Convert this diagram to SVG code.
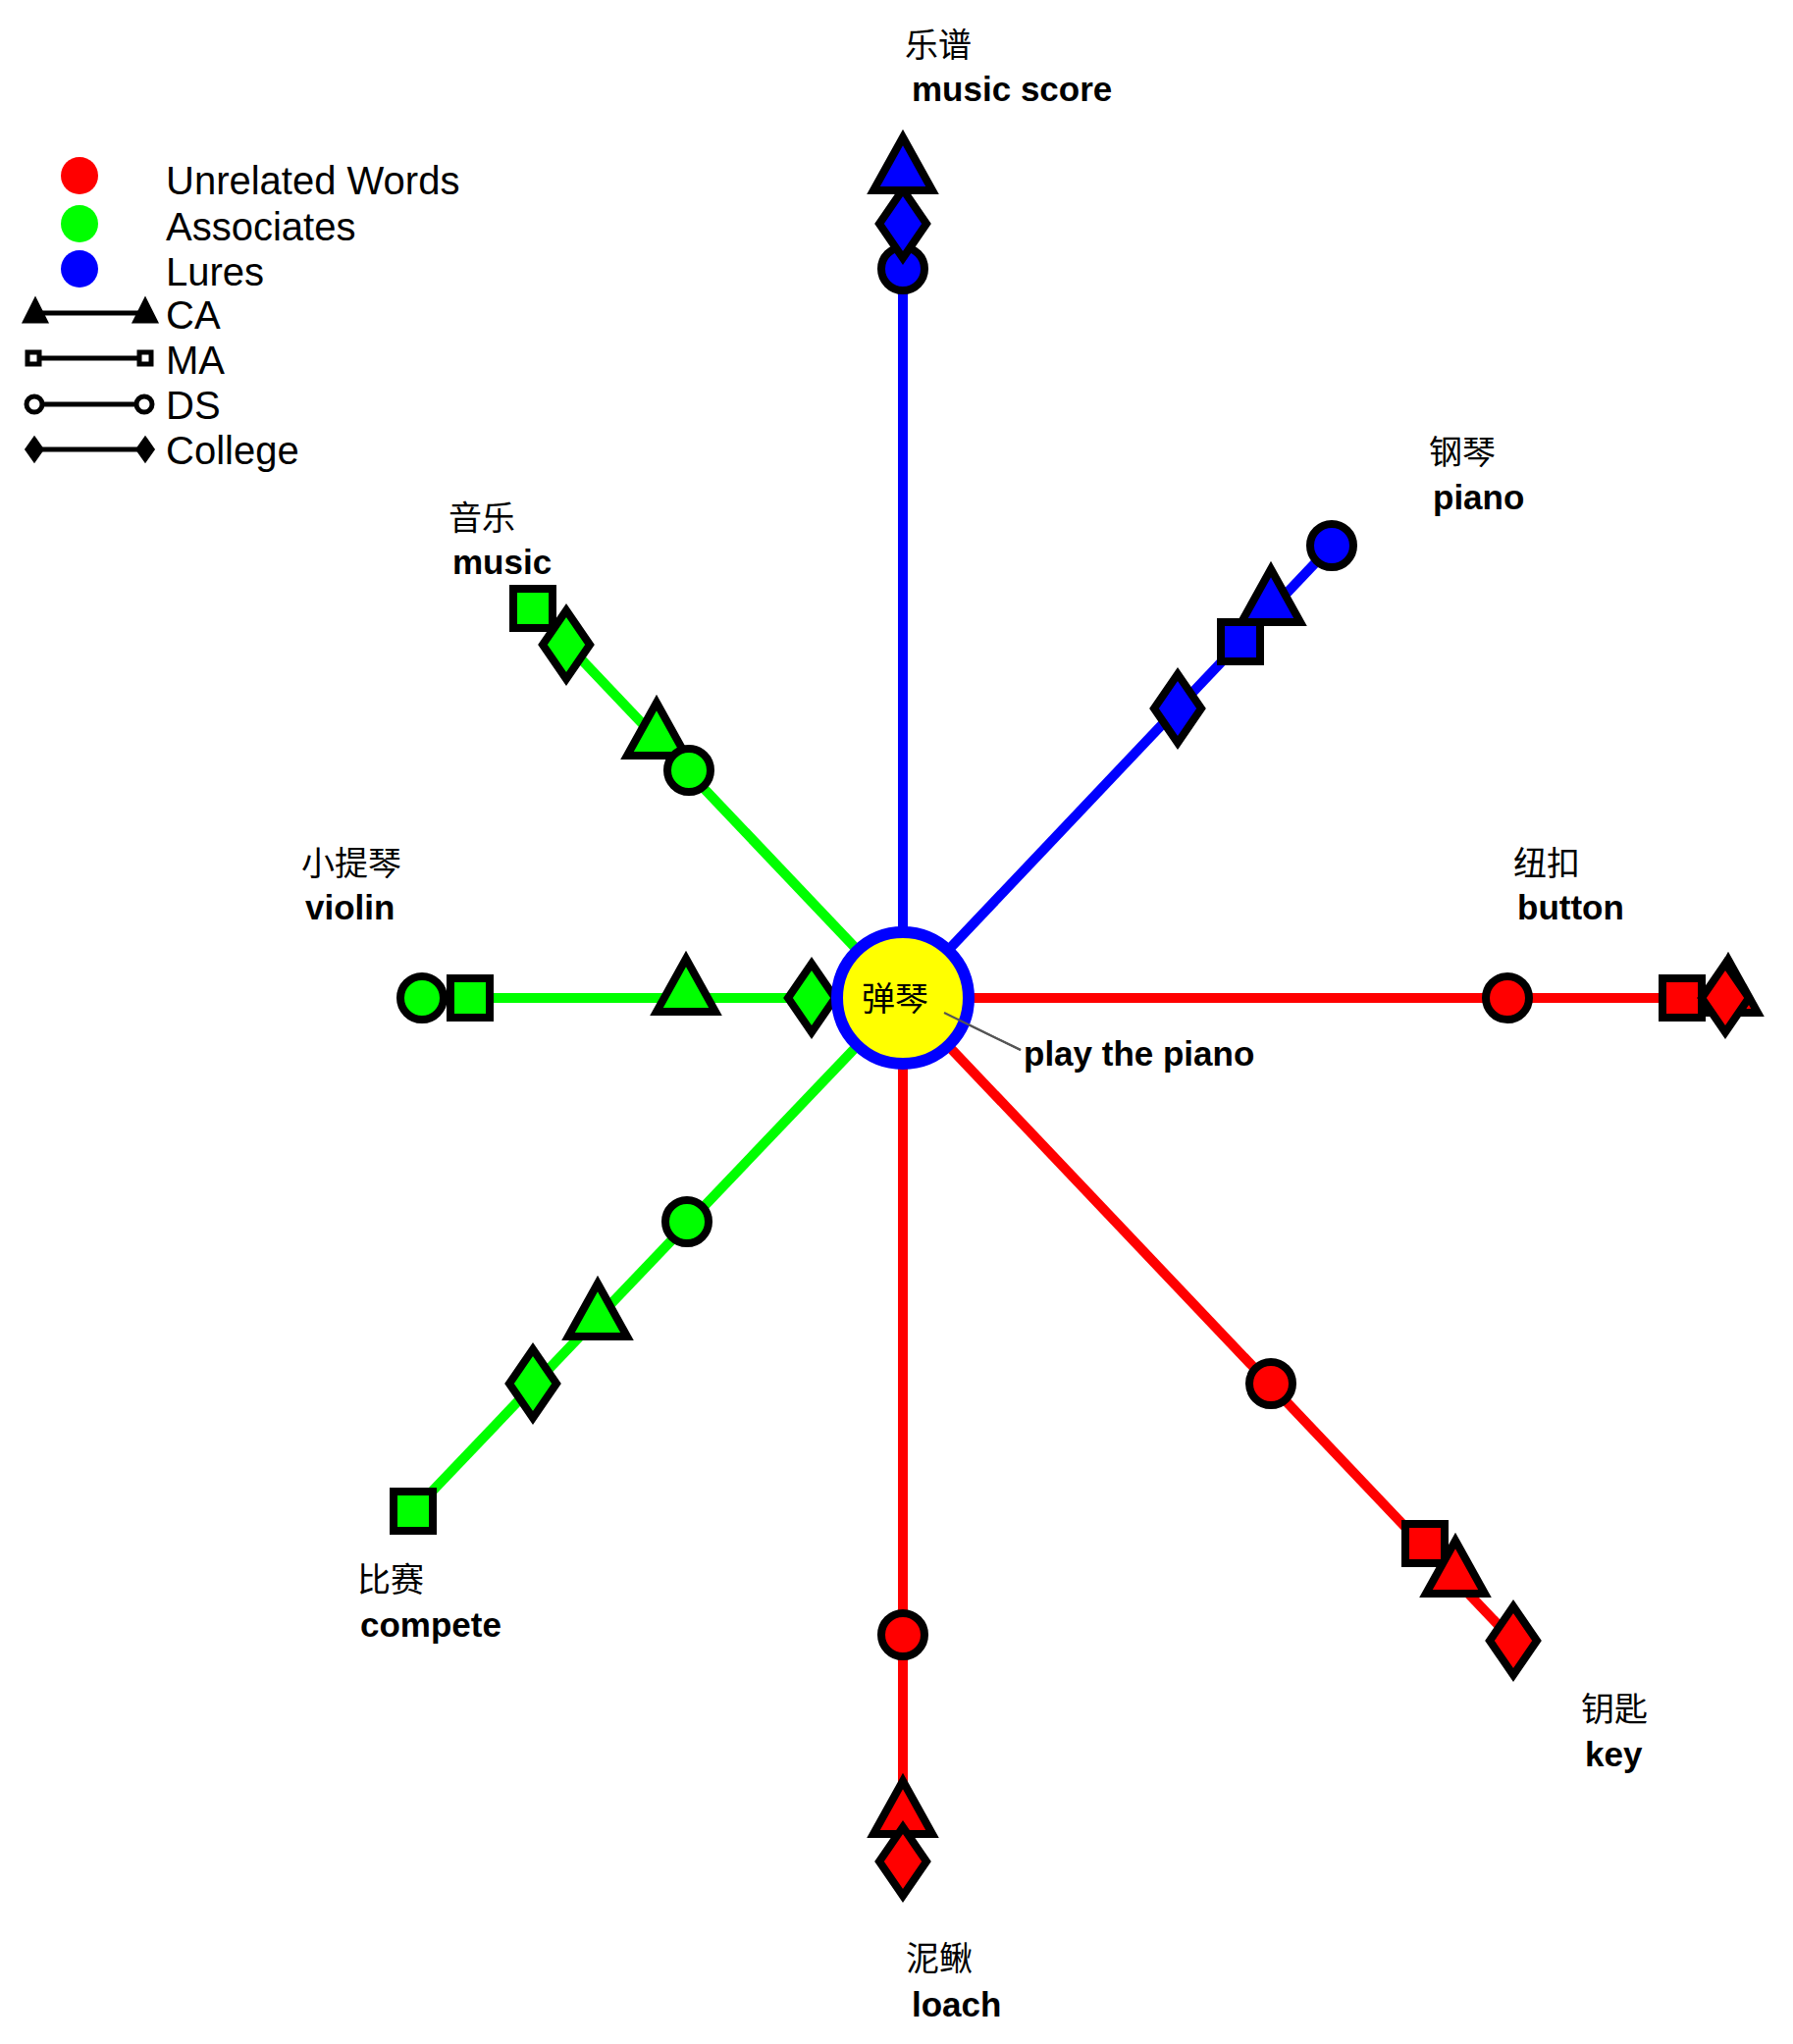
<svg xmlns="http://www.w3.org/2000/svg" width="1827" height="2083" viewBox="0 0 1827 2083">
<style>
.en{font-family:"Liberation Sans",Arial,sans-serif;font-weight:bold;font-size:35px;fill:#000}
.zh{font-family:"Noto Sans CJK SC",serif;font-size:34px;fill:#000}
.lg{font-family:"Liberation Sans",Arial,sans-serif;font-size:40px;fill:#000}
.m{stroke:#000;stroke-width:8}
.r{fill:#f00}.g{fill:#0f0}.b{fill:#00f}
</style>
<defs>
<circle id="ci" r="22"/>
<rect id="sq" x="-20" y="-20" width="40" height="40"/>
<polygon id="tr" points="0,-32 30,22 -30,22"/>
<polygon id="di" points="0,-35 24,0 0,35 -24,0"/>
</defs>
<rect width="1827" height="2083" fill="#fff"/>
<g id="legend">
<circle cx="81" cy="179" r="19" fill="#f00"/><circle cx="81" cy="228" r="19" fill="#0f0"/><circle cx="81" cy="274" r="19" fill="#00f"/>
<text class="lg" x="169" y="198">Unrelated Words</text><text class="lg" x="169" y="245">Associates</text><text class="lg" x="169" y="291">Lures</text>
<g stroke="#000" stroke-width="5" fill="#fff">
<line x1="30" y1="319" x2="150" y2="319"/><polygon points="36,307 46,327 26,327" fill="#000"/><polygon points="148,307 158,327 138,327" fill="#000"/>
<line x1="30" y1="365" x2="150" y2="365"/><rect x="28" y="359" width="12" height="12"/><rect x="142" y="359" width="12" height="12"/>
<line x1="30" y1="412" x2="150" y2="412"/><circle cx="35" cy="412" r="8"/><circle cx="147" cy="412" r="8"/>
<line x1="30" y1="458" x2="150" y2="458"/><polygon points="35,448 42,458 35,468 28,458" fill="#000"/><polygon points="148,448 155,458 148,468 141,458" fill="#000"/>
</g>
<text class="lg" x="169" y="335">CA</text><text class="lg" x="169" y="381">MA</text><text class="lg" x="169" y="427">DS</text><text class="lg" x="169" y="473">College</text>
</g>
<g id="connectors" stroke-width="10">
<line x1="920" y1="1017" x2="920" y2="172" stroke="#00f"/>
<line x1="920" y1="1017" x2="1357" y2="556" stroke="#00f"/>
<line x1="920" y1="1017" x2="1770" y2="1017" stroke="#f00"/>
<line x1="920" y1="1017" x2="1542" y2="1672" stroke="#f00"/>
<line x1="920" y1="1017" x2="920" y2="1880" stroke="#f00"/>
<line x1="920" y1="1017" x2="421" y2="1540" stroke="#0f0"/>
<line x1="920" y1="1017" x2="430" y2="1017" stroke="#0f0"/>
<line x1="920" y1="1017" x2="543" y2="620" stroke="#0f0"/>
<line x1="962" y1="1032" x2="1040" y2="1070" stroke="#555" stroke-width="2"/>
</g>
<g id="n-score" class="m b">
<use href="#ci" x="920" y="274"/><use href="#di" x="920" y="228"/><use href="#tr" x="920" y="172"/>
</g>
<g id="n-piano" class="m b">
<use href="#di" x="1200" y="722"/><use href="#sq" x="1264" y="654"/><use href="#tr" x="1295" y="612"/><use href="#ci" x="1357" y="556"/>
</g>
<g id="n-button" class="m r">
<use href="#ci" x="1536" y="1017"/><use href="#tr" x="1761" y="1010"/><use href="#sq" x="1714" y="1017"/><use href="#di" x="1758" y="1017"/>
</g>
<g id="n-key" class="m r">
<use href="#ci" x="1295" y="1410"/><use href="#sq" x="1452" y="1573"/><use href="#tr" x="1483" y="1602"/><use href="#di" x="1542" y="1672"/>
</g>
<g id="n-loach" class="m r">
<use href="#ci" x="920" y="1666"/><use href="#tr" x="920" y="1847"/><use href="#di" x="920" y="1897"/>
</g>
<g id="n-compete" class="m g">
<use href="#sq" x="421" y="1540"/><use href="#di" x="543" y="1410"/><use href="#tr" x="609" y="1340"/><use href="#ci" x="700" y="1245"/>
</g>
<g id="n-violin" class="m g">
<use href="#ci" x="430" y="1017"/><use href="#sq" x="479" y="1017"/><use href="#tr" x="699" y="1009"/><use href="#di" x="827" y="1017"/>
</g>
<g id="n-music" class="m g">
<use href="#sq" x="543" y="620"/><use href="#di" x="577" y="657"/><use href="#tr" x="669" y="748"/><use href="#ci" x="702" y="785"/>
</g>
<g id="n-center">
<circle cx="920" cy="1017" r="67" fill="#ff0" stroke="#00f" stroke-width="12"/>
<text class="zh" x="878" y="1030" font-size="36">弹琴</text>
<line x1="962" y1="1032" x2="1040" y2="1070" stroke="#555" stroke-width="2"/>
</g>
<g id="labels">
<text class="zh" x="922" y="58">乐谱</text><text class="en" x="929" y="103">music score</text>
<text class="zh" x="1456" y="473">钢琴</text><text class="en" x="1460" y="519">piano</text>
<text class="zh" x="457" y="540">音乐</text><text class="en" x="461" y="585">music</text>
<text class="zh" x="307" y="892">小提琴</text><text class="en" x="311" y="937">violin</text>
<text class="zh" x="1542" y="892">纽扣</text><text class="en" x="1546" y="937">button</text>
<text class="en" x="1043" y="1086">play the piano</text>
<text class="zh" x="364" y="1622">比赛</text><text class="en" x="367" y="1668">compete</text>
<text class="zh" x="1611" y="1754">钥匙</text><text class="en" x="1615" y="1800">key</text>
<text class="zh" x="923" y="2008">泥鳅</text><text class="en" x="929" y="2055">loach</text>
</g>
</svg>
